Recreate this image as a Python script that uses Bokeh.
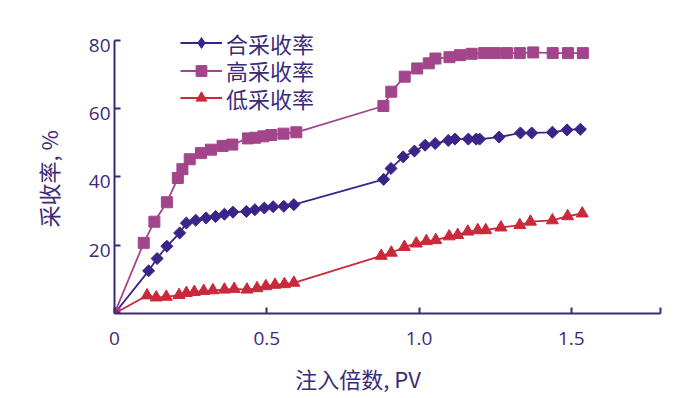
import math
from bokeh.plotting import figure
from bokeh.models import Range1d, FixedTicker, Legend, LegendItem, Title, LinearAxis
from bokeh.embed import file_html
from bokeh.resources import INLINE

# ---- data ----
x_he = [0, 0.112, 0.140, 0.172, 0.214, 0.236, 0.267, 0.301, 0.332, 0.361, 0.389, 0.433,
        0.461, 0.492, 0.521, 0.556, 0.589, 0.884, 0.908, 0.948, 0.985, 1.020, 1.053,
        1.096, 1.118, 1.162, 1.188, 1.199, 1.263, 1.333, 1.370, 1.438, 1.486, 1.530]
y_he = [0, 12.5, 16.1, 19.7, 23.6, 26.5, 27.3, 28.0, 28.4, 29.1, 29.7, 29.9,
        30.4, 30.9, 31.3, 31.4, 31.9, 39.3, 42.5, 45.9, 47.6, 49.3, 49.8,
        50.7, 51.1, 51.1, 51.1, 51.1, 51.7, 52.9, 52.9, 53.1, 53.8, 54.0]

x_gao = [0, 0.096, 0.131, 0.172, 0.208, 0.223, 0.247, 0.284, 0.317, 0.355, 0.387, 0.438,
         0.462, 0.489, 0.515, 0.555, 0.597, 0.883, 0.909, 0.953, 0.994, 1.032, 1.054,
         1.100, 1.135, 1.173, 1.214, 1.250, 1.289, 1.331, 1.375, 1.439, 1.489, 1.538]
y_gao = [0, 20.7, 26.9, 32.6, 39.7, 42.3, 45.2, 47.0, 48.0, 49.1, 49.5, 51.3,
         51.5, 51.9, 52.3, 52.7, 53.1, 60.8, 65.0, 69.4, 71.8, 73.3, 74.7,
         75.1, 75.7, 76.1, 76.3, 76.3, 76.3, 76.3, 76.5, 76.3, 76.3, 76.3]

x_di = [0, 0.107, 0.137, 0.170, 0.212, 0.236, 0.262, 0.293, 0.323, 0.361, 0.393, 0.435,
        0.468, 0.497, 0.527, 0.558, 0.589, 0.876, 0.909, 0.952, 0.991, 1.024, 1.055,
        1.099, 1.127, 1.160, 1.193, 1.219, 1.269, 1.331, 1.366, 1.438, 1.488, 1.536]
y_di = [0, 5.3, 4.7, 4.9, 5.4, 6.0, 6.3, 6.6, 6.8, 7.0, 7.2, 7.0,
        7.4, 8.0, 8.4, 8.6, 9.0, 16.9, 17.8, 19.5, 20.5, 21.2, 21.5,
        22.6, 23.0, 24.0, 24.4, 24.4, 25.2, 25.9, 26.9, 27.3, 28.5, 29.3]

series_names = ["合采收率", "高采收率", "低采收率"]
x_ticks = [0, 0.5, 1.0, 1.5, 1.793]
x_tick_labels = {0: "0", 0.5: "0.5", 1.0: "1.0", 1.5: "1.5", 1.793: ""}
y_ticks = [20, 40, 60, 80]
x_title = "注入倍数, PV"
y_title = "采收率, %"

# ---- styles / layout ----
AX = "#3a2a78"
C_HE = "#3b2489"
C_GAO = "#a3458a"
C_DI = "#c9293a"
CJK = "Noto Sans CJK SC"
NUM = "Open Sans"
X_TITLE_AT = 0.8   # horizontal anchor of the x title (axis units)

p = figure(width=688, height=398, output_backend="svg", toolbar_location=None,
           x_range=Range1d(0, 1.793), y_range=Range1d(0, 84.68),
           min_border_left=114, min_border_right=28, min_border_top=24, min_border_bottom=85)
p.outline_line_color = None
p.grid.visible = False
p.background_fill_color = "white"
p.border_fill_color = "white"
# range used only to place the y tick labels a few pixels below their ticks
p.extra_y_ranges = {"lbl": Range1d(1.46, 86.14)}

for ax in (p.xaxis[0], p.yaxis[0]):
    ax.axis_line_color = AX
    ax.axis_line_width = 2
    ax.major_tick_line_color = AX
    ax.major_tick_line_width = 2
    ax.major_tick_in = 6
    ax.major_tick_out = 0
    ax.minor_tick_line_color = None
    ax.major_label_text_color = AX
    ax.major_label_text_font = NUM
    ax.major_label_text_font_size = "19px"

p.xaxis[0].ticker = FixedTicker(ticks=x_ticks)
p.xaxis[0].major_label_overrides = x_tick_labels
p.xaxis[0].major_label_standoff = 18

p.yaxis[0].ticker = FixedTicker(ticks=y_ticks)
p.yaxis[0].major_label_overrides = {t: "" for t in y_ticks}
p.yaxis[0].major_label_standoff = 0
p.yaxis[0].bounds = (0, 80)

ylab = LinearAxis(y_range_name="lbl", ticker=FixedTicker(ticks=y_ticks),
                  axis_line_color=None, major_tick_line_color=None, minor_tick_line_color=None,
                  major_tick_in=0, major_tick_out=0,
                  major_label_standoff=4, major_label_text_color=AX,
                  major_label_text_font=NUM, major_label_text_font_size="19px")
p.add_layout(ylab, "left")

xtitle_axis = LinearAxis(ticker=FixedTicker(ticks=[X_TITLE_AT]),
                         major_label_overrides={X_TITLE_AT: x_title},
                         axis_line_color=None, major_tick_line_color=None,
                         minor_tick_line_color=None, major_tick_in=0, major_tick_out=0,
                         major_label_standoff=14, major_label_text_font=CJK,
                         major_label_text_font_size="22px", major_label_text_color=AX)
p.add_layout(xtitle_axis, "below")

l1 = p.line(x_he, y_he, line_color=C_HE, line_width=1.8)
l2 = p.line(x_gao, y_gao, line_color=C_GAO, line_width=1.8)
l3 = p.line(x_di, y_di, line_color=C_DI, line_width=1.8)
s2 = p.scatter(x_gao, y_gao, marker="square", size=11, fill_color=C_GAO, line_color=C_GAO)
s1 = p.scatter(x_he, y_he, marker="square", size=8.5, angle=math.pi / 4,
               fill_color=C_HE, line_color=C_HE)
s3 = p.scatter(x_di, y_di, marker="triangle", size=12, fill_color=C_DI, line_color=C_DI)
# hidden diamond renderer of the same series, used only as the legend swatch
s1_key = p.scatter(x_he, y_he, marker="diamond", size=13, fill_color=C_HE, line_color=C_HE,
                   visible=False)

# one legend per entry so the rows can sit at the reference spacing
row_bottoms = [254.5, 227, 199.5]
for name, rends, yb in zip(series_names, [[l1, s1_key], [l2, s2], [l3, s3]], row_bottoms):
    lg = Legend(items=[LegendItem(label=name, renderers=rends)],
                location=(66, yb), padding=0, margin=0, spacing=0,
                glyph_width=42, glyph_height=27, label_height=26, label_standoff=4,
                label_text_font=CJK, label_text_font_size="22px", label_text_color=AX,
                background_fill_alpha=0, border_line_color=None,
                inactive_fill_alpha=0)
    p.add_layout(lg, "center")

p.add_layout(Title(text=y_title, align="left", offset=86, standoff=43,
                   text_font=CJK, text_font_size="22px", text_font_style="normal",
                   text_color=AX), "left")

open("out.html", "w").write(file_html(p, INLINE))
